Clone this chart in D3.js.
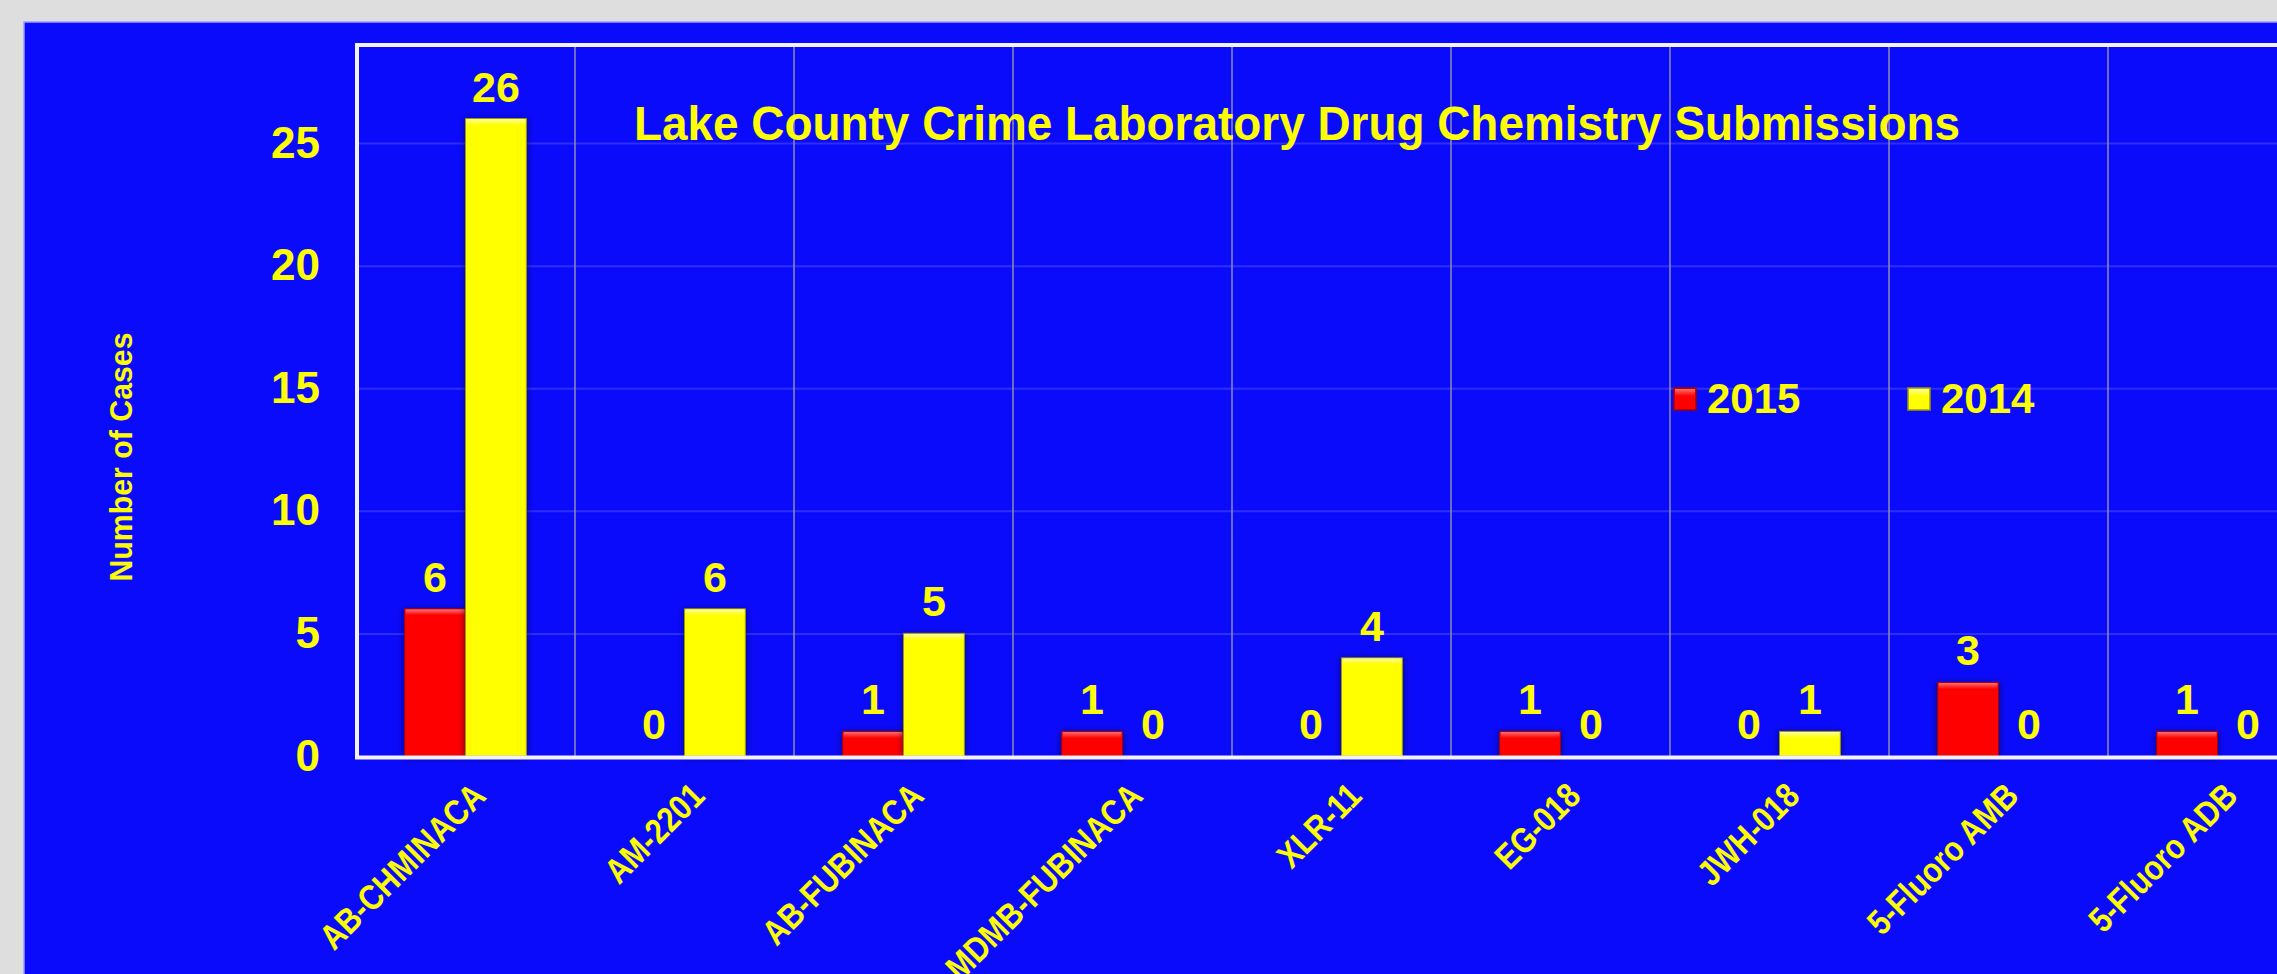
<!DOCTYPE html>
<html>
<head>
<meta charset="utf-8">
<script src="https://cdn.jsdelivr.net/npm/d3@7"></script>
<style>
html, body { margin: 0; padding: 0; background: #dedede; overflow: hidden; }
</style>
</head>
<body>
<div id="chart"></div>
<script>

// data
const categories = ['AB-CHMINACA', 'AM-2201', 'AB-FUBINACA', 'MDMB-FUBINACA', 'XLR-11', 'EG-018', 'JWH-018', '5-Fluoro AMB', '5-Fluoro ADB'];
const seriesNames = ['2015', '2014'];
const values2015 = [6, 0, 1, 1, 0, 1, 0, 3, 1];
const values2014 = [26, 6, 5, 0, 4, 0, 1, 0, 0];
const yTicks = [0, 5, 10, 15, 20, 25];
const titleText = 'Lake County Crime Laboratory Drug Chemistry Submissions';
const yTitle = 'Number of Cases';

const width = 2277;
const height = 974;
const plot = { left: 356, top: 45, bottom: 756, step: 219 };
const font = '"Liberation Sans", Arial, sans-serif';
const blue = '#0b0bfb';
const yellow = '#ffff00';

const colors = { '2015': { base: '#ff0000', light: '#ff7070', dark: '#a00000' },
                 '2014': { base: '#ffff00', light: '#ffffa0', dark: '#9a9a00' } };

const table = categories.map((c, i) => ({ category: c, '2015': values2015[i], '2014': values2014[i] }));

const svg = d3.select('#chart')
  .append('svg')
  .attr('width', width)
  .attr('height', height)
  .style('display', 'block');

const defs = svg.append('defs');
defs.append('filter')
  .attr('id', 'shadow')
  .attr('x', '-30%').attr('y', '-30%').attr('width', '160%').attr('height', '160%')
  .append('feDropShadow')
  .attr('dx', 0).attr('dy', 1)
  .attr('stdDeviation', 3.5)
  .attr('flood-color', '#000030')
  .attr('flood-opacity', 0.65);

seriesNames.forEach(s => {
  const g = defs.append('linearGradient')
    .attr('id', 'bevel' + s)
    .attr('x1', 0).attr('y1', 0).attr('x2', 0).attr('y2', 1);
  g.append('stop').attr('offset', '0%').attr('stop-color', colors[s].light);
  g.append('stop').attr('offset', '100%').attr('stop-color', colors[s].base);
});

// blue slide panel
svg.append('rect')
  .attr('x', 24).attr('y', 22)
  .attr('width', width).attr('height', height)
  .attr('fill', blue)
  .attr('stroke', '#9a9aff')
  .attr('stroke-width', 1.5);

// scales
const x0 = d3.scaleBand()
  .domain(categories)
  .range([plot.left, plot.left + plot.step * categories.length])
  .paddingInner(0)
  .paddingOuter(0);

const x1 = d3.scaleBand()
  .domain(seriesNames)
  .range([0, x0.bandwidth()])
  .paddingInner(0)
  .paddingOuter(0.8);

const y = d3.scaleLinear()
  .domain([0, 29])
  .range([plot.bottom, plot.top]);

const plotRight = x0.range()[1];

// horizontal gridlines
svg.append('g')
  .attr('transform', `translate(${plot.left}, 0)`)
  .call(d3.axisLeft(y).tickValues(yTicks.filter(t => t > 0)).tickSize(-(plotRight - plot.left)).tickFormat(''))
  .call(g => g.select('.domain').remove())
  .call(g => g.selectAll('line').attr('stroke', '#2e2eff').attr('stroke-width', 2));

// vertical category separators
svg.append('g')
  .selectAll('line')
  .data(categories.slice(1).concat(['end']))
  .join('line')
  .attr('x1', d => d === 'end' ? plotRight : x0(d))
  .attr('x2', d => d === 'end' ? plotRight : x0(d))
  .attr('y1', plot.top)
  .attr('y2', plot.bottom)
  .attr('stroke', '#8c8cae')
  .attr('stroke-width', 1.5);

// bars
const groups = svg.append('g')
  .selectAll('g')
  .data(table)
  .join('g')
  .attr('transform', d => `translate(${x0(d.category)}, 0)`);

const bars = groups.selectAll('g')
  .data(d => seriesNames.map(s => ({ key: s, value: d[s] })).filter(b => b.value > 0))
  .join('g')
  .attr('filter', 'url(#shadow)');

bars.append('rect')
  .attr('x', d => x1(d.key))
  .attr('y', d => y(d.value))
  .attr('width', x1.bandwidth())
  .attr('height', d => y(0) - y(d.value))
  .attr('fill', d => colors[d.key].base)
  .attr('stroke', d => colors[d.key].dark)
  .attr('stroke-width', 1);

bars.append('rect')
  .attr('x', d => x1(d.key) + 1)
  .attr('y', d => y(d.value) + 0.5)
  .attr('width', x1.bandwidth() - 2)
  .attr('height', 6)
  .attr('fill', d => `url(#bevel${d.key})`);

// value labels
groups.selectAll('text')
  .data(d => seriesNames.map(s => ({ key: s, value: d[s] })))
  .join('text')
  .attr('x', d => x1(d.key) + x1.bandwidth() / 2)
  .attr('y', d => y(d.value) - 17)
  .attr('text-anchor', 'middle')
  .attr('fill', yellow)
  .style('font', `bold 43px ${font}`)
  .text(d => d.value);

// plot border (left, top) and baseline
svg.append('line')
  .attr('x1', plot.left + 1).attr('x2', plot.left + 1)
  .attr('y1', plot.top - 2).attr('y2', plot.bottom + 3)
  .attr('stroke', '#f2f2f8').attr('stroke-width', 4);
svg.append('line')
  .attr('x1', plot.left - 1).attr('x2', plotRight)
  .attr('y1', plot.top).attr('y2', plot.top)
  .attr('stroke', '#f2f2f8').attr('stroke-width', 4);
svg.append('line')
  .attr('x1', plot.left - 1).attr('x2', plotRight)
  .attr('y1', plot.bottom + 1.5).attr('y2', plot.bottom + 1.5)
  .attr('stroke', '#f2f2f8').attr('stroke-width', 4);

// y axis labels
svg.append('g')
  .attr('transform', `translate(${plot.left}, 0)`)
  .call(d3.axisLeft(y).tickValues(yTicks).tickSize(0).tickPadding(36))
  .call(g => g.select('.domain').remove())
  .call(g => g.selectAll('text')
    .attr('fill', yellow)
    .style('font', `bold 44px ${font}`));

// x axis labels (narrow bold type, rotated)
svg.append('g')
  .selectAll('text')
  .data(categories)
  .join('text')
  .attr('transform', d => `translate(${x0(d) + x0.bandwidth() / 2 + 22}, ${plot.bottom + 42}) rotate(-45) scale(0.86, 1)`)
  .attr('text-anchor', 'end')
  .attr('fill', yellow)
  .style('font', `bold 35px ${font}`)
  .text(d => d);

// y axis title
svg.append('text')
  .attr('transform', 'translate(132, 457) rotate(-90)')
  .attr('text-anchor', 'middle')
  .attr('fill', yellow)
  .attr('textLength', 249)
  .attr('lengthAdjust', 'spacingAndGlyphs')
  .style('font', `bold 32px ${font}`)
  .text(yTitle);

// chart title
svg.append('text')
  .attr('x', 1297)
  .attr('y', 140)
  .attr('text-anchor', 'middle')
  .attr('fill', yellow)
  .attr('textLength', 1326)
  .attr('lengthAdjust', 'spacingAndGlyphs')
  .style('font', `bold 49px ${font}`)
  .text(titleText);

// legend
const legend = svg.append('g')
  .attr('transform', 'translate(1674, 388)')
  .selectAll('g')
  .data(seriesNames)
  .join('g')
  .attr('transform', (d, i) => `translate(${i * 234}, 0)`);

legend.append('rect')
  .attr('width', 22)
  .attr('height', 22)
  .attr('fill', d => colors[d].base)
  .attr('stroke', d => colors[d].dark)
  .attr('stroke-width', 1.5);

legend.append('rect')
  .attr('x', 1).attr('y', 1)
  .attr('width', 20)
  .attr('height', 7)
  .attr('fill', d => `url(#bevel${d})`);

legend.append('text')
  .attr('x', 33)
  .attr('y', 25)
  .attr('fill', yellow)
  .style('font', `bold 42px ${font}`)
  .text(d => d);

</script>
</body>
</html>
